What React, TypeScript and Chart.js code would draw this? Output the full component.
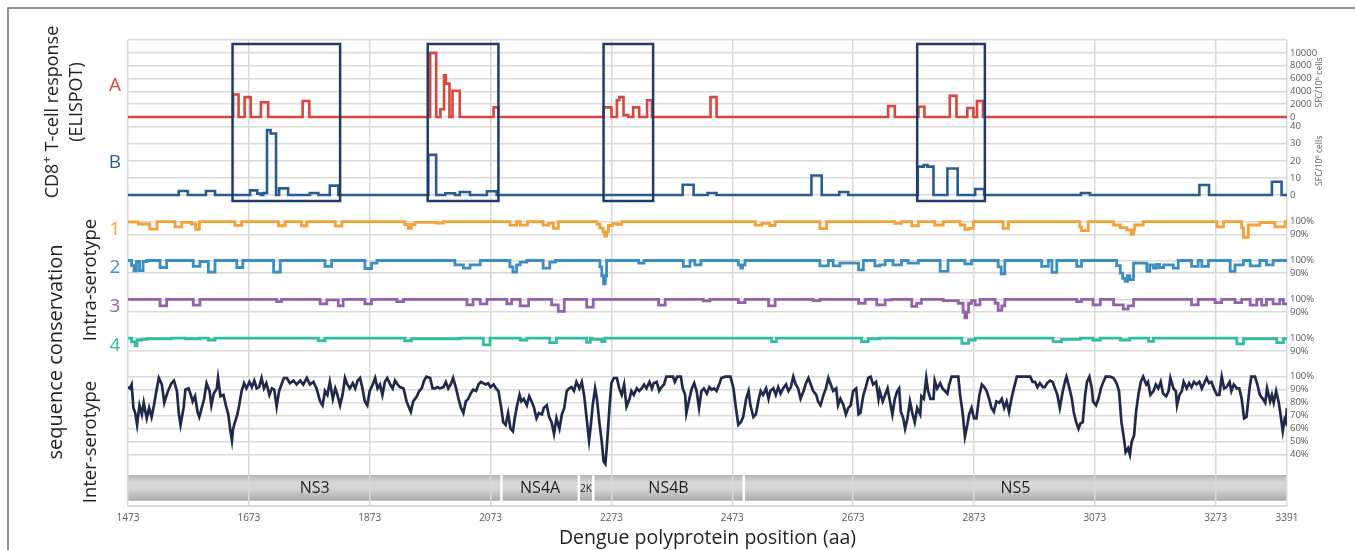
import React, { useEffect, useRef } from 'react';
import { Chart, registerables } from 'chart.js';

Chart.register(...registerables);

// ---------------- data ----------------
const xTicks = [1473, 1673, 1873, 2073, 2273, 2473, 2673, 2873, 3073, 3273, 3391];
const xTitle = 'Dengue polyprotein position (aa)';

const elispotATicks = [10000, 8000, 6000, 4000, 2000, 0];
const elispotAMax = 12000;
const elispotBTicks = [40, 30, 20, 10, 0];
const intraTicks = [100, 90];
const interTicks = [100, 90, 80, 70, 60, 50, 40];

// step series: [position (aa), value] — value holds until the next position
const responseA: [number, number][] = [
  [1473, 0], [1647, 3500], [1656, 0], [1666, 3100], [1676, 0], [1693, 2300], [1705, 0], [1762, 2500], [1773, 0],
  [1973, 10000], [1983, 0], [1990, 1200], [1996, 6500], [1999, 5200], [2005, 0], [2010, 4100], [2022, 0],
  [2078, 1500], [2086, 0], [2260, 1500], [2273, 0], [2282, 2600], [2286, 3100], [2293, 300], [2301, 0],
  [2309, 1500], [2319, 0], [2332, 2600], [2340, 0], [2437, 3100], [2447, 0], [2731, 1700], [2742, 0],
  [2781, 1600], [2791, 0], [2833, 3300], [2844, 0], [2862, 1400], [2872, 0], [2878, 2500], [2888, 0], [3391, 0],
];

const responseB: [number, number][] = [
  [1473, 0], [1557, 2.3], [1572, 0], [1602, 2.3], [1617, 0], [1675, 2.7], [1687, 0.8], [1693, 0], [1697, 1.2],
  [1703, 38], [1709, 36], [1718, 0], [1723, 3.9], [1738, 0], [1774, 1.2], [1788, 0], [1807, 5.5], [1821, 0],
  [1970, 23.5], [1983, 0], [1998, 1], [2014, 0], [2022, 1.8], [2039, 0], [2067, 2.2], [2083, 0], [2391, 6],
  [2409, 0], [2432, 1.2], [2447, 0], [2604, 11.4], [2621, 0], [2650, 1.8], [2665, 0], [2780, 16.6], [2790, 17.6],
  [2796, 16.6], [2806, 0], [2829, 15.5], [2846, 0], [2875, 3.5], [2890, 0], [3050, 1.2], [3065, 0], [3246, 5.9],
  [3262, 0], [3366, 7.8], [3382, 0], [3391, 0],
];

const intra1: [number, number][] = [
  [1473, 99.8], [1490, 98.2], [1509, 94.2], [1521, 100], [1551, 96], [1562, 99.5], [1578, 98.2], [1585, 94],
  [1591, 100], [1650, 97.1], [1661, 100], [1722, 96.8], [1733, 100], [1760, 96.8], [1769, 100], [1816, 96.6],
  [1827, 100], [1931, 97.8], [1937, 94.7], [1942, 97.8], [1948, 99.5], [1984, 98.8], [1995, 100], [2105, 97.3],
  [2116, 100], [2122, 97.3], [2134, 100], [2160, 97.3], [2169, 98.7], [2177, 94.7], [2185, 100], [2249, 98],
  [2254, 95], [2259, 92], [2262, 88.7], [2265, 92], [2268, 97], [2275, 98.5], [2282, 98], [2290, 100],
  [2511, 97.3], [2522, 98.7], [2535, 97], [2544, 100], [2618, 94.5], [2629, 100], [2742, 98.7], [2753, 100],
  [2770, 96.8], [2781, 100], [2808, 97.4], [2822, 100], [2850, 97.4], [2858, 94], [2864, 94.7], [2872, 100],
  [2921, 94.7], [2930, 100], [3048, 96], [3051, 93], [3062, 100], [3104, 97.4], [3115, 95.3], [3126, 93.5],
  [3133, 90], [3137, 93.5], [3139, 97.4], [3153, 100], [3275, 96], [3286, 100], [3316, 95], [3319, 87.7],
  [3327, 97.4], [3346, 99.2], [3371, 96], [3388, 100], [3391, 100],
];

const intra2: [number, number][] = [
  [1473, 100], [1479, 96], [1483, 91.8], [1487, 99.2], [1492, 92.1], [1498, 99.2], [1504, 100], [1526, 94.5],
  [1537, 100], [1581, 95.3], [1592, 99.2], [1606, 90.8], [1617, 100], [1653, 94.5], [1663, 100], [1714, 90.8],
  [1725, 100], [1799, 95.3], [1810, 100], [1865, 93.7], [1876, 97.9], [1885, 100], [2014, 96.6], [2028, 94],
  [2039, 96.6], [2056, 100], [2105, 95], [2110, 90.8], [2116, 96.6], [2122, 98.7], [2133, 100], [2160, 94],
  [2171, 98.7], [2180, 100], [2254, 95], [2257, 88], [2260, 81.6], [2263, 88], [2265, 100], [2318, 97.9],
  [2327, 100], [2392, 95.3], [2403, 100], [2411, 96.6], [2421, 100], [2483, 96.6], [2487, 94], [2490, 96.6],
  [2494, 100], [2618, 95.8], [2632, 100], [2640, 95.8], [2651, 97.9], [2682, 92.6], [2690, 100], [2709, 95.8],
  [2717, 96.6], [2726, 100], [2739, 96.6], [2753, 100], [2764, 97.9], [2781, 100], [2817, 91.4], [2830, 100],
  [2858, 97.4], [2869, 100], [2913, 95], [2918, 89.5], [2924, 100], [2985, 95.3], [2996, 100], [3002, 90.6],
  [3010, 100], [3043, 95.3], [3051, 100], [3109, 96], [3115, 90], [3119, 86], [3123, 83.5], [3127, 88],
  [3131, 85], [3137, 97.9], [3159, 91.4], [3164, 96.6], [3170, 94], [3175, 97], [3180, 94.5], [3187, 96.6],
  [3203, 94], [3211, 100], [3233, 95.3], [3244, 100], [3250, 95.3], [3261, 100], [3297, 91.4], [3305, 96.6],
  [3319, 100], [3330, 95.8], [3346, 100], [3357, 96.6], [3368, 100], [3391, 100],
];

const intra3: [number, number][] = [
  [1473, 100], [1526, 94.9], [1537, 100], [1581, 95.4], [1592, 100], [1719, 98.2], [1727, 100], [1791, 96.4],
  [1802, 99.5], [1821, 94.9], [1829, 100], [1865, 96.4], [1876, 100], [1918, 98.2], [1929, 100], [2034, 95.6],
  [2044, 100], [2056, 96.4], [2067, 100], [2100, 96.4], [2108, 100], [2122, 94.9], [2136, 100], [2174, 95.6],
  [2185, 90.5], [2195, 100], [2232, 93.8], [2243, 100], [2351, 95.4], [2362, 100], [2425, 98.7], [2436, 100],
  [2483, 97.4], [2494, 100], [2533, 94.9], [2544, 100], [2607, 99], [2618, 100], [2682, 96.9], [2693, 100],
  [2712, 95.6], [2726, 99.5], [2737, 100], [2770, 94.4], [2778, 96.9], [2786, 100], [2822, 99], [2847, 96.9],
  [2855, 90], [2858, 85.4], [2861, 90], [2864, 96.9], [2869, 99], [2875, 95.6], [2883, 100], [2908, 96.9],
  [2913, 91.3], [2919, 94.9], [2924, 100], [3043, 98.2], [3051, 100], [3070, 95.6], [3082, 100], [3104, 95.6],
  [3120, 92.3], [3128, 94.9], [3137, 100], [3233, 95.6], [3244, 100], [3272, 97.4], [3283, 100], [3305, 97.4],
  [3316, 100], [3330, 95.4], [3341, 100], [3349, 95.4], [3357, 100], [3368, 96.4], [3379, 100], [3385, 96.4],
  [3391, 96.4],
];

const intra4: [number, number][] = [
  [1473, 100], [1479, 97], [1485, 94.1], [1488, 98.5], [1496, 99], [1504, 99.5], [1545, 100], [1568, 99.5],
  [1592, 100], [1606, 98.5], [1617, 100], [1788, 97.9], [1799, 100], [1931, 97.9], [1942, 99.5], [2022, 100],
  [2061, 94.6], [2072, 100], [2122, 98.5], [2133, 100], [2171, 96.4], [2182, 100], [2232, 96.7], [2238, 100],
  [2241, 99], [2257, 97.2], [2262, 100], [2538, 97.2], [2546, 100], [2687, 97.2], [2698, 99.5], [2717, 100],
  [2853, 95.9], [2864, 98.5], [2875, 100], [3004, 97.2], [3018, 99], [3049, 100], [3070, 98.5], [3082, 100],
  [3115, 98.5], [3131, 100], [3162, 97.4], [3170, 100], [3308, 95.4], [3319, 99.5], [3374, 96.4], [3385, 99.5],
  [3391, 99.5],
];

// polyline: [position (aa), % identity]
const inter: [number, number][] = [
  [1473, 92], [1476, 91], [1479, 94], [1482, 76], [1485, 72], [1488, 63], [1492, 78], [1496, 71], [1499, 80], [1504, 68],
  [1508, 76], [1512, 69], [1516, 78], [1520, 89], [1524, 99], [1529, 94], [1533, 80], [1537, 86], [1541, 91], [1545, 95],
  [1549, 97], [1554, 89], [1557, 72], [1560, 63], [1565, 76], [1568, 90], [1573, 91], [1577, 86], [1580, 81], [1584, 85],
  [1588, 73], [1591, 69], [1595, 76], [1599, 83], [1603, 95], [1608, 89], [1611, 78], [1615, 87], [1620, 91], [1622, 99],
  [1626, 85], [1631, 86], [1635, 78], [1639, 71], [1642, 60], [1645, 51], [1647, 60], [1650, 65], [1654, 71], [1657, 78],
  [1661, 89], [1665, 95], [1669, 91], [1674, 96], [1678, 92], [1682, 97], [1686, 91], [1690, 92], [1694, 99], [1698, 91],
  [1702, 95], [1707, 86], [1711, 91], [1715, 90], [1719, 77], [1723, 89], [1727, 94], [1731, 99], [1736, 99], [1741, 95],
  [1747, 97], [1752, 94], [1758, 97], [1763, 94], [1769, 99], [1774, 94], [1780, 96], [1785, 91], [1791, 81], [1795, 78],
  [1799, 89], [1803, 86], [1807, 96], [1812, 83], [1816, 91], [1819, 87], [1824, 78], [1828, 86], [1832, 99], [1836, 94],
  [1840, 91], [1845, 95], [1849, 91], [1853, 97], [1857, 99], [1861, 91], [1865, 81], [1869, 78], [1873, 89], [1878, 94],
  [1882, 99], [1886, 91], [1890, 94], [1894, 86], [1898, 96], [1902, 99], [1907, 94], [1911, 91], [1915, 97], [1919, 94],
  [1923, 92], [1929, 91], [1934, 81], [1941, 73], [1945, 81], [1951, 85], [1955, 89], [1959, 91], [1963, 97], [1967, 100],
  [1973, 99], [1977, 91], [1981, 91], [1985, 92], [1989, 91], [1995, 92], [1999, 96], [2003, 91], [2007, 94], [2011, 99],
  [2016, 91], [2020, 83], [2024, 76], [2028, 72], [2032, 81], [2036, 83], [2040, 87], [2044, 90], [2049, 89], [2053, 94],
  [2057, 96], [2061, 95], [2065, 94], [2069, 95], [2073, 92], [2078, 94], [2082, 91], [2086, 89], [2090, 78], [2094, 65],
  [2098, 63], [2102, 72], [2106, 60], [2110, 58], [2113, 68], [2117, 78], [2121, 86], [2124, 81], [2128, 83], [2133, 78],
  [2137, 85], [2141, 81], [2145, 76], [2149, 68], [2153, 72], [2158, 71], [2161, 76], [2166, 78], [2170, 69], [2174, 65],
  [2178, 56], [2182, 68], [2187, 60], [2191, 71], [2195, 76], [2199, 89], [2203, 91], [2207, 92], [2211, 89], [2215, 96],
  [2220, 91], [2224, 96], [2228, 85], [2232, 68], [2236, 51], [2239, 63], [2242, 78], [2246, 91], [2249, 83], [2253, 65],
  [2257, 50], [2260, 35], [2263, 33], [2266, 50], [2270, 78], [2273, 95], [2277, 99], [2282, 99], [2286, 91], [2290, 86],
  [2294, 94], [2298, 77], [2303, 83], [2306, 89], [2310, 86], [2315, 91], [2319, 89], [2323, 91], [2327, 94], [2331, 91],
  [2336, 96], [2340, 91], [2343, 95], [2348, 96], [2352, 89], [2356, 92], [2360, 94], [2364, 100], [2375, 100], [2378, 96],
  [2382, 100], [2388, 100], [2391, 91], [2395, 86], [2397, 72], [2402, 83], [2406, 91], [2410, 95], [2414, 89], [2418, 76],
  [2422, 89], [2426, 91], [2431, 87], [2435, 92], [2439, 90], [2443, 91], [2447, 89], [2452, 95], [2455, 99], [2461, 100],
  [2470, 100], [2475, 91], [2479, 76], [2483, 63], [2487, 65], [2491, 69], [2496, 83], [2500, 89], [2503, 78], [2508, 69],
  [2512, 71], [2516, 81], [2520, 89], [2524, 86], [2529, 91], [2533, 83], [2536, 89], [2541, 91], [2545, 86], [2549, 92],
  [2553, 87], [2557, 91], [2562, 94], [2566, 89], [2570, 92], [2574, 100], [2578, 94], [2582, 91], [2586, 83], [2591, 89],
  [2595, 95], [2599, 99], [2603, 94], [2607, 89], [2612, 86], [2615, 81], [2619, 78], [2624, 86], [2628, 91], [2632, 99],
  [2636, 94], [2640, 89], [2645, 91], [2648, 78], [2652, 83], [2657, 78], [2661, 71], [2665, 76], [2669, 78], [2673, 89],
  [2678, 91], [2682, 71], [2685, 72], [2690, 86], [2694, 92], [2698, 99], [2702, 100], [2706, 94], [2711, 96], [2715, 83],
  [2717, 89], [2722, 81], [2726, 86], [2730, 91], [2734, 81], [2738, 71], [2742, 83], [2746, 89], [2749, 91], [2752, 73],
  [2756, 68], [2759, 60], [2763, 68], [2767, 81], [2771, 72], [2775, 65], [2779, 76], [2784, 71], [2786, 85], [2790, 83],
  [2794, 99], [2797, 89], [2801, 83], [2806, 83], [2808, 97], [2812, 91], [2817, 95], [2821, 91], [2825, 89], [2829, 87],
  [2832, 94], [2836, 100], [2847, 100], [2850, 86], [2854, 73], [2858, 54], [2862, 63], [2865, 71], [2869, 76], [2873, 68],
  [2877, 68], [2882, 86], [2886, 94], [2890, 92], [2894, 89], [2898, 83], [2902, 76], [2906, 73], [2910, 81], [2915, 80],
  [2919, 83], [2923, 76], [2927, 81], [2931, 73], [2935, 83], [2939, 91], [2944, 100], [2966, 100], [2970, 96], [2974, 96],
  [2978, 92], [2982, 95], [2987, 92], [2990, 92], [2994, 95], [2999, 97], [3003, 96], [3007, 91], [3011, 86], [3015, 76],
  [3020, 89], [3024, 97], [3026, 100], [3031, 91], [3035, 83], [3038, 73], [3042, 65], [3046, 60], [3049, 64], [3053, 65],
  [3057, 86], [3060, 96], [3064, 100], [3068, 91], [3070, 81], [3075, 78], [3079, 83], [3083, 91], [3087, 96], [3091, 100],
  [3098, 100], [3104, 99], [3109, 95], [3113, 89], [3117, 65], [3121, 53], [3124, 42], [3128, 45], [3131, 40], [3134, 50],
  [3138, 55], [3141, 72], [3145, 86], [3149, 96], [3153, 100], [3158, 94], [3161, 96], [3165, 86], [3170, 89], [3174, 94],
  [3178, 91], [3182, 96], [3186, 87], [3191, 85], [3195, 89], [3198, 99], [3203, 91], [3207, 89], [3209, 78], [3213, 86],
  [3217, 89], [3220, 96], [3225, 91], [3229, 95], [3233, 92], [3237, 96], [3241, 94], [3246, 96], [3250, 91], [3254, 95],
  [3258, 99], [3262, 95], [3266, 96], [3270, 91], [3275, 86], [3279, 86], [3283, 100], [3287, 91], [3291, 92], [3296, 96],
  [3299, 89], [3303, 94], [3308, 91], [3312, 91], [3316, 83], [3320, 68], [3324, 69], [3329, 91], [3332, 100], [3338, 100],
  [3342, 94], [3346, 86], [3351, 83], [3355, 80], [3358, 91], [3363, 81], [3366, 86], [3369, 80], [3373, 89], [3377, 81],
  [3380, 72], [3384, 58], [3387, 67], [3389, 65], [3391, 76],
];

const proteinNames = ['NS3', 'NS4A', '2K', 'NS4B', 'NS5'];
const proteinBounds = [1473, 2091, 2219, 2243, 2492, 3391];
const boxedRegions: [number, number][] = [[1646, 1824], [1969, 2086], [2260, 2342], [2779, 2891]];

// ---------------- layout (virtual vertical units = px below plot top) ----------------
const PLOT_H = 466;
const A_ZERO = 77;
const A_PER = 77 / 12000;
const B_ZERO = 155;
const B_PER = 68.3 / 40;
const INTRA_BASE = [181.7, 220.5, 259.3, 298.1];
const INTRA_PER = 1.27;
const INTER_BASE = 336.7;
const INTER_PER = 1.3;
const BAR_TOP = 435;
const BAR_BOTTOM = 460.7;
const BOX_TOP = 4;
const BOX_BOTTOM = 161;

const aU = (v: number) => A_ZERO - v * A_PER;
const bU = (v: number) => B_ZERO - v * B_PER;
const intraU = (k: number) => (v: number) => INTRA_BASE[k] + (100 - v) * INTRA_PER;
const interU = (v: number) => INTER_BASE + (100 - v) * INTER_PER;

const yTickDefs: { u: number; label: string }[] = [
  { u: aU(elispotAMax), label: '' },
  ...elispotATicks.map((v) => ({ u: aU(v), label: String(v) })),
  ...elispotBTicks.map((v) => ({ u: bU(v), label: String(v) })),
  ...INTRA_BASE.flatMap((_, k) => intraTicks.map((v) => ({ u: intraU(k)(v), label: v + '%' }))),
  ...interTicks.map((v) => ({ u: interU(v), label: v + '%' })),
];

const COLORS = {
  a: '#d6473f',
  b: '#2a5d8f',
  c1: '#f5a133',
  c2: '#3b8ec2',
  c3: '#9461ab',
  c4: '#2ebf9c',
  inter: '#1f2a4a',
  box: '#1f3a6b',
  text: '#231f20',
  tick: '#595959',
  grid: '#d9d9d9',
};

const FONT = "'Open Sans', 'Noto Sans', sans-serif";

function mk(pairs: [number, number][], f: (v: number) => number) {
  return pairs.map(([x, v]) => ({ x, y: f(v) }));
}

function vText(ctx: CanvasRenderingContext2D, parts: { t: string; size: number; rise?: number }[], cx: number, cy: number, color: string) {
  ctx.save();
  ctx.translate(cx, cy);
  ctx.rotate(-Math.PI / 2);
  ctx.fillStyle = color;
  ctx.textBaseline = 'middle';
  ctx.textAlign = 'left';
  let total = 0;
  for (const p of parts) {
    ctx.font = `${p.size}px ${FONT}`;
    total += ctx.measureText(p.t).width;
  }
  let x = -total / 2;
  for (const p of parts) {
    ctx.font = `${p.size}px ${FONT}`;
    ctx.fillText(p.t, x, -(p.rise || 0));
    x += ctx.measureText(p.t).width;
  }
  ctx.restore();
}

const overlayPlugin = {
  id: 'overlay',
  beforeDraw(chart: any) {
    const ctx: CanvasRenderingContext2D = chart.ctx;
    const xs = chart.scales.x;
    const ys = chart.scales.y;
    ctx.save();
    ctx.fillStyle = '#ffffff';
    ctx.fillRect(0, 0, chart.width, chart.height);
    const top = ys.getPixelForValue(BAR_TOP);
    const bottom = ys.getPixelForValue(BAR_BOTTOM);
    const g = ctx.createLinearGradient(0, top, 0, bottom);
    g.addColorStop(0, '#b3b3b3');
    g.addColorStop(0.3, '#d9d9d9');
    g.addColorStop(0.55, '#d4d4d4');
    g.addColorStop(1, '#a9a9a9');
    ctx.fillStyle = g;
    const n = proteinNames.length;
    for (let i = 0; i < n; i++) {
      const x0 = xs.getPixelForValue(proteinBounds[i]) + (i > 0 ? 1.2 : 0);
      const x1 = xs.getPixelForValue(proteinBounds[i + 1]) - (i < n - 1 ? 1.2 : 0);
      ctx.fillRect(x0, top, x1 - x0, bottom - top);
    }
    ctx.restore();
  },
  afterDraw(chart: any) {
    const ctx: CanvasRenderingContext2D = chart.ctx;
    const xs = chart.scales.x;
    const ys = chart.scales.y;
    ctx.save();
    // protein names
    const mid = (ys.getPixelForValue(BAR_TOP) + ys.getPixelForValue(BAR_BOTTOM)) / 2;
    ctx.fillStyle = COLORS.text;
    ctx.textAlign = 'center';
    ctx.textBaseline = 'middle';
    for (let i = 0; i < proteinNames.length; i++) {
      const cx = (xs.getPixelForValue(proteinBounds[i]) + xs.getPixelForValue(proteinBounds[i + 1])) / 2;
      const small = proteinNames[i] === '2K';
      ctx.font = `${small ? 10 : 16}px ${FONT}`;
      ctx.fillText(proteinNames[i], cx, mid + 1);
    }
    // boxes
    ctx.strokeStyle = COLORS.box;
    ctx.lineWidth = 2.5;
    const by0 = ys.getPixelForValue(BOX_TOP);
    const by1 = ys.getPixelForValue(BOX_BOTTOM);
    for (const [s, e] of boxedRegions) {
      const x0 = xs.getPixelForValue(s);
      const x1 = xs.getPixelForValue(e);
      ctx.strokeRect(x0, by0, x1 - x0, by1 - by0);
    }
    // track letters / numbers
    ctx.font = `19px ${FONT}`;
    ctx.textAlign = 'center';
    const labels: [string, string, number][] = [
      ['A', COLORS.a, 86], ['B', COLORS.b, 163], ['1', COLORS.c1, 230], ['2', COLORS.c2, 268], ['3', COLORS.c3, 307], ['4', COLORS.c4, 346],
    ];
    for (const [t, c, y] of labels) {
      ctx.fillStyle = c;
      ctx.fillText(t, 115, y);
    }
    // rotated titles
    vText(ctx, [{ t: 'CD8', size: 18 }, { t: '+', size: 13, rise: 6 }, { t: ' T-cell response', size: 18 }], 53, 112, COLORS.text);
    vText(ctx, [{ t: '(ELISPOT)', size: 18 }], 77, 102, COLORS.text);
    vText(ctx, [{ t: 'Intra-serotype', size: 18.5 }], 91, 280, COLORS.text);
    vText(ctx, [{ t: 'sequence conservation', size: 20 }], 56, 352, COLORS.text);
    vText(ctx, [{ t: 'Inter-serotype', size: 18.5 }], 91, 442, COLORS.text);
    // right unit labels
    const unit = [{ t: 'SFC/10', size: 8.5 }, { t: '6', size: 6, rise: 3 }, { t: ' cells', size: 8.5 }];
    vText(ctx, unit, 1320, (ys.getPixelForValue(aU(0)) + ys.getPixelForValue(aU(elispotAMax))) / 2 + 4, COLORS.tick);
    vText(ctx, unit, 1320, (ys.getPixelForValue(bU(0)) + ys.getPixelForValue(bU(40))) / 2, COLORS.tick);
    // frame
    ctx.strokeStyle = '#6f6f6f';
    ctx.lineWidth = 1.5;
    ctx.beginPath();
    ctx.moveTo(8, chart.height);
    ctx.lineTo(8, 8);
    ctx.lineTo(chart.width, 8);
    ctx.stroke();
    ctx.restore();
  },
};

export default function App() {
  const ref = useRef<HTMLCanvasElement | null>(null);
  useEffect(() => {
    if (!ref.current) return;
    Chart.defaults.font.family = FONT;
    const line = (data: any[], color: string, stepped: boolean, width = 2.6) => ({
      data,
      borderColor: color,
      backgroundColor: color,
      borderWidth: width,
      pointRadius: 0,
      stepped: stepped ? true : false,
      tension: 0,
      fill: false,
    });
    const chart = new Chart(ref.current, {
      type: 'line',
      data: {
        datasets: [
          line(mk(responseA, aU), COLORS.a, true),
          line(mk(responseB, bU), COLORS.b, true),
          line(mk(intra1, intraU(0)), COLORS.c1, true, 2.8),
          line(mk(intra2, intraU(1)), COLORS.c2, true, 2.8),
          line(mk(intra3, intraU(2)), COLORS.c3, true, 2.8),
          line(mk(intra4, intraU(3)), COLORS.c4, true, 2.8),
          line(mk(inter, interU), COLORS.inter, false, 2.7),
        ] as any,
      },
      options: {
        animation: false,
        responsive: false,
        events: [],
        layout: { padding: { left: 128, top: 40, right: 0, bottom: 0 } },
        plugins: { legend: { display: false }, tooltip: { enabled: false }, title: { display: false } },
        scales: {
          x: {
            type: 'linear',
            position: 'bottom',
            min: xTicks[0],
            max: xTicks[xTicks.length - 1],
            afterBuildTicks: (s: any) => {
              s.ticks = xTicks.map((v) => ({ value: v }));
            },
            afterFit: (s: any) => {
              s.height = 44;
            },
            ticks: {
              autoSkip: false,
              maxRotation: 0,
              padding: 6,
              color: COLORS.tick,
              font: { size: 10 },
              callback: (v: any) => String(v),
            },
            grid: { color: COLORS.grid, lineWidth: 1.5, drawTicks: false },
            border: { display: true, color: COLORS.grid, width: 2 },
            title: {
              display: true,
              text: xTitle,
              color: COLORS.text,
              font: { size: 19.5 },
              padding: { top: 0, bottom: 0 },
            },
          },
          y: {
            type: 'linear',
            position: 'right',
            min: 0,
            max: PLOT_H,
            reverse: true,
            afterBuildTicks: (s: any) => {
              s.ticks = yTickDefs.map((t) => ({ value: t.u }));
            },
            afterFit: (s: any) => {
              s.width = 68;
            },
            ticks: {
              autoSkip: false,
              padding: 3,
              color: COLORS.tick,
              font: { size: 9.5 },
              callback: (_v: any, i: number) => (yTickDefs[i] ? yTickDefs[i].label : ''),
            },
            grid: { color: COLORS.grid, lineWidth: 1.5, drawTicks: false },
            border: { display: false },
          },
        },
      } as any,
      plugins: [overlayPlugin],
    });
    return () => chart.destroy();
  }, []);
  return (
    <div style={{ position: 'fixed', left: 0, top: 0, width: 1355, height: 550, background: '#fff' }}>
      <canvas ref={ref} width={1355} height={550} style={{ display: 'block', width: 1355, height: 550 }} />
    </div>
  );
}
